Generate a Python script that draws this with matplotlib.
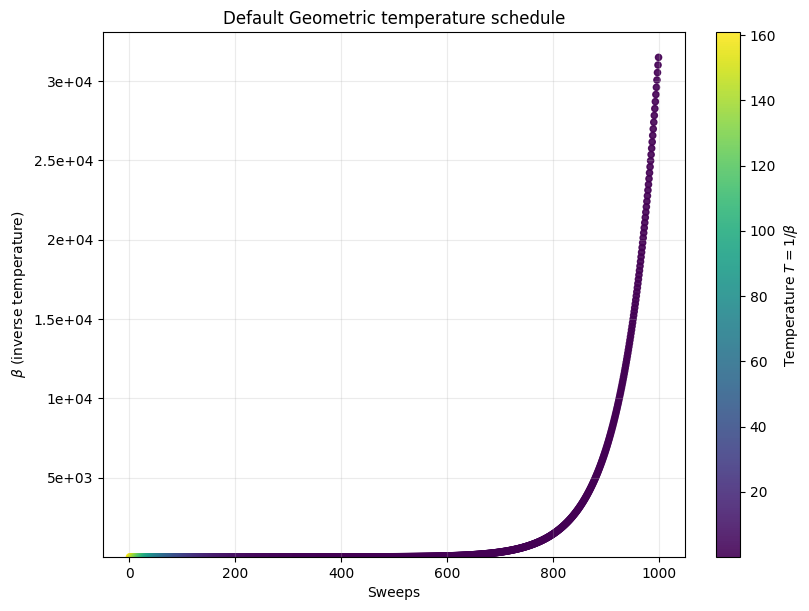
import numpy as np
import matplotlib
matplotlib.use("Agg")
import matplotlib.pyplot as plt
from matplotlib.ticker import FormatStrFormatter

n_sweeps = 1000
beta_start = 1 / 161.0
beta_end = 31500.0
sweeps = np.arange(n_sweeps)
beta = np.geomspace(beta_start, beta_end, n_sweeps)
T = 1 / beta

fig = plt.figure(figsize=(8.09, 6.11), dpi=100)
W, H = 809, 611
ax = fig.add_axes([103 / W, 1 - 557 / H, (685 - 103) / W, (557 - 32) / H])
cax = fig.add_axes([716 / W, 1 - 557 / H, 24 / W, (557 - 32) / H])
sc = ax.scatter(sweeps, beta, c=T, cmap="viridis", s=20, alpha=0.9)
ax.set_ylim(beta.min(), 33100)
ax.yaxis.set_major_formatter(FormatStrFormatter("%.2g"))
ax.grid(True, alpha=0.25)
ax.set_xlabel("Sweeps")
ax.set_ylabel(r"$\beta$ (inverse temperature)")
ax.set_title("Default Geometric temperature schedule")
cb = fig.colorbar(sc, cax=cax)
cb.set_label(r"Temperature $T = 1/\beta$")
fig.savefig("out.png", dpi=100)
